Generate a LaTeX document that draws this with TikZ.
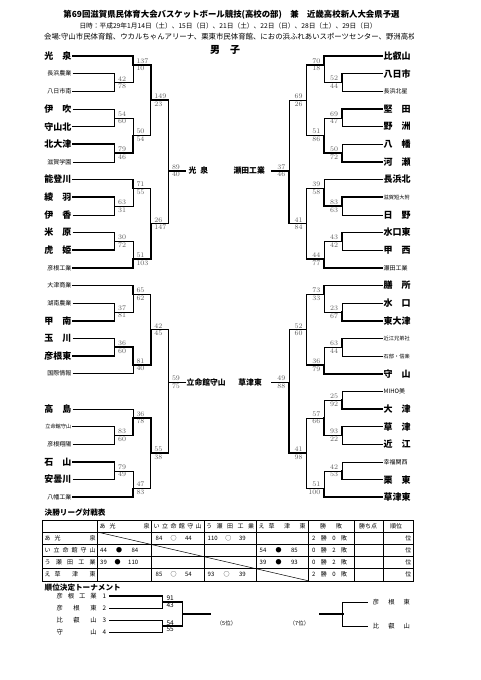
\documentclass[tikz,border=0pt]{standalone}
\usepackage{fontspec}
\newfontfamily\jp{Noto Sans CJK JP}
\definecolor{scoregray}{HTML}{5E5E5E}
\newcommand{\spr}[2]{\makebox[#1][s]{#2}}

\begin{document}
\begin{tikzpicture}[x=1pt, y=-1pt,
  win/.style={line width=1.6pt, line cap=rect},
  lose/.style={line width=0.55pt},
  tl/.style={anchor=east, inner sep=1pt},
  tr/.style={anchor=west, inner sep=1pt},
  bigname/.style={font=\jp\bfseries\fontsize{9}{9}\selectfont},
  smallname/.style={font=\jp\fontsize{6}{6}\selectfont},
  tinyname/.style={font=\jp\fontsize{5.2}{5.2}\selectfont},
  champ/.style={font=\jp\bfseries\fontsize{7.8}{7.8}\selectfont, inner sep=0pt},
  score/.style={font=\fontsize{7}{7}\selectfont, text=scoregray, inner xsep=3.5pt, inner ysep=1.2pt},
  ls/.style 2 args={label={[score]above right:#1}, label={[score]below right:#2}},
  rs/.style 2 args={label={[score]above left:#1}, label={[score]below left:#2}},
  tabline/.style={line width=0.5pt},
  cell/.style={font=\jp\fontsize{6}{6}\selectfont, inner sep=0pt},
  mini/.style={font=\jp\fontsize{6.3}{6.3}\selectfont, inner sep=1pt},
  mscore/.style={font=\jp\fontsize{6.5}{6.5}\selectfont, inner xsep=4pt, inner ysep=0.6pt},
  ms/.style 2 args={label={[mscore]above right:#1}, label={[mscore]below right:#2}},
  sect/.style={font=\jp\bfseries\fontsize{7.6}{7.6}\selectfont, inner sep=0pt},
]
\fill[white] (0,0) rectangle (481,680);
\useasboundingbox (0,0) rectangle (481,680);

% heading
\node[font=\jp\bfseries\fontsize{8.4}{8.4}\selectfont] (title) at (231.5,15)
  {第69回滋賀県民体育大会バスケットボール競技(高校の部)　兼　近畿高校新人大会県予選};
\node[font=\jp\fontsize{6.7}{6.7}\selectfont] (dates) at (228,26)
  {日時：平成29年1月14日（土）、15日（日）、21日（土）、22日（日）、28日（土）、29日（日）};
\begin{scope}
  \clip (0,0) rectangle (413.5,680);
  \node[font=\jp\fontsize{7.4}{7.4}\selectfont, anchor=west, inner sep=0pt] (venue) at (44,36.5)
    {会場:守山市民体育館、ウカルちゃんアリーナ、栗東市民体育館、におの浜ふれあいスポーツセンター、野洲高校};
\end{scope}
\node[font=\jp\bfseries\fontsize{10}{10}\selectfont] (boys) at (225,50) {男　子};

\begin{scope}[yshift=-38.35pt, y=-17.65pt]
% left teams
\node[tl,bigname]   (L1)  at (72.5,1)  {光　泉};
\node[tl,smallname] (L2)  at (72.5,2)  {長浜農業};
\node[tl,smallname] (L3)  at (72.5,3)  {八日市南};
\node[tl,bigname]   (L4)  at (72.5,4)  {伊　吹};
\node[tl,bigname]   (L5)  at (72.5,5)  {守山北};
\node[tl,bigname]   (L6)  at (72.5,6)  {北大津};
\node[tl,smallname] (L7)  at (72.5,7)  {滋賀学園};
\node[tl,bigname]   (L8)  at (72.5,8)  {能登川};
\node[tl,bigname]   (L9)  at (72.5,9)  {綾　羽};
\node[tl,bigname]   (L10) at (72.5,10) {伊　香};
\node[tl,bigname]   (L11) at (72.5,11) {米　原};
\node[tl,bigname]   (L12) at (72.5,12) {虎　姫};
\node[tl,smallname] (L13) at (72.5,13) {彦根工業};
\node[tl,smallname] (L14) at (72.5,14) {大津商業};
\node[tl,smallname] (L15) at (72.5,15) {湖南農業};
\node[tl,bigname]   (L16) at (72.5,16) {甲　南};
\node[tl,bigname]   (L17) at (72.5,17) {玉　川};
\node[tl,bigname]   (L18) at (72.5,18) {彦根東};
\node[tl,smallname] (L19) at (72.5,19) {国際情報};
\node[tl,bigname]   (L21) at (72.5,21) {高　島};
\node[tl,tinyname]  (L22) at (72.5,22) {立命館守山};
\node[tl,smallname] (L23) at (72.5,23) {彦根翔陽};
\node[tl,bigname]   (L24) at (72.5,24) {石　山};
\node[tl,bigname]   (L25) at (72.5,25) {安曇川};
\node[tl,smallname] (L26) at (72.5,26) {八幡工業};

% right teams
\node[tr,bigname]   (R1)  at (382.5,1)  {比叡山};
\node[tr,bigname]   (R2)  at (382.5,2)  {八日市};
\node[tr,smallname] (R3)  at (382.5,3)  {長浜北星};
\node[tr,bigname]   (R4)  at (382.5,4)  {堅　田};
\node[tr,bigname]   (R5)  at (382.5,5)  {野　洲};
\node[tr,bigname]   (R6)  at (382.5,6)  {八　幡};
\node[tr,bigname]   (R7)  at (382.5,7)  {河　瀬};
\node[tr,bigname]   (R8)  at (382.5,8)  {長浜北};
\node[tr,tinyname]  (R9)  at (382.5,9)  {滋賀短大附};
\node[tr,bigname]   (R10) at (382.5,10) {日　野};
\node[tr,bigname]   (R11) at (382.5,11) {水口東};
\node[tr,bigname]   (R12) at (382.5,12) {甲　西};
\node[tr,smallname] (R13) at (382.5,13) {瀬田工業};
\node[tr,bigname]   (R14) at (382.5,14) {膳　所};
\node[tr,bigname]   (R15) at (382.5,15) {水　口};
\node[tr,bigname]   (R16) at (382.5,16) {東大津};
\node[tr,tinyname]  (R17) at (382.5,17) {近江兄弟社};
\node[tr,tinyname]  (R18) at (382.5,18) {石部・信楽};
\node[tr,bigname]   (R19) at (382.5,19) {守　山};
\node[tr,smallname] (R20) at (382.5,20) {MIHO美};
\node[tr,bigname]   (R21) at (382.5,21) {大　津};
\node[tr,bigname]   (R22) at (382.5,22) {草　津};
\node[tr,bigname]   (R23) at (382.5,23) {近　江};
\node[tr,smallname] (R24) at (382.5,24) {幸福関西};
\node[tr,bigname]   (R25) at (382.5,25) {栗　東};
\node[tr,bigname]   (R26) at (382.5,26) {草津東};

% left block, upper
\coordinate[ls={42}{78}]  (a1)  at (114.5,2.5);
\coordinate[ls={137}{10}] (a2)  at (132.8,1.5);
\coordinate[ls={54}{60}]  (a3)  at (114.5,4.5);
\coordinate[ls={79}{46}]  (a4)  at (114.5,6.5);
\coordinate[ls={50}{54}]  (a5)  at (132.8,5.5);
\coordinate[ls={149}{23}] (a6)  at (150.7,3.5);
\coordinate[ls={63}{31}]  (a7)  at (114.5,9.5);
\coordinate[ls={71}{55}]  (a8)  at (132.8,8.5);
\coordinate[ls={30}{72}]  (a9)  at (114.5,11.5);
\coordinate[ls={51}{103}] (a10) at (132.8,12.5);
\coordinate[ls={26}{147}] (a11) at (150.7,10.5);
\coordinate[ls={89}{40}]  (a12) at (168.3,7.5);
\coordinate (a0) at (185,7.5);
\draw[lose] (L2.east) -| (a1);  \draw[win]  (L3.east) -| (a1);
\draw[win]  (L1.east) -| (a2);  \draw[lose] (a1) -| (a2);
\draw[lose] (L4.east) -| (a3);  \draw[win]  (L5.east) -| (a3);
\draw[win]  (L6.east) -| (a4);  \draw[lose] (L7.east) -| (a4);
\draw[lose] (a3) -| (a5);       \draw[win]  (a4) -| (a5);
\draw[win]  (a2) -| (a6);       \draw[lose] (a5) -| (a6);
\draw[win]  (L9.east) -| (a7);  \draw[lose] (L10.east) -| (a7);
\draw[win]  (L8.east) -| (a8);  \draw[lose] (a7) -| (a8);
\draw[lose] (L11.east) -| (a9); \draw[win]  (L12.east) -| (a9);
\draw[lose] (a9) -| (a10);      \draw[win]  (L13.east) -| (a10);
\draw[lose] (a8) -| (a11);      \draw[win]  (a10) -| (a11);
\draw[win]  (a6) -| (a12);      \draw[lose] (a11) -| (a12);
\draw[win]  (a12) -- (a0);
\node[champ, anchor=west] (w1) at (188.5,7.5) {光\hspace{4pt}泉};

% left block, lower
\coordinate[ls={37}{81}]  (b1)  at (114.5,15.5);
\coordinate[ls={65}{62}]  (b2)  at (132.8,14.5);
\coordinate[ls={36}{60}]  (b3)  at (114.5,17.5);
\coordinate[ls={81}{40}]  (b4)  at (132.8,18.5);
\coordinate[ls={42}{45}]  (b5)  at (150.7,16.5);
\coordinate[ls={83}{60}]  (b6)  at (114.5,22.5);
\coordinate[ls={36}{78}]  (b7)  at (132.8,21.5);
\coordinate[ls={79}{49}]  (b8)  at (114.5,24.5);
\coordinate[ls={47}{83}]  (b9)  at (132.8,25.5);
\coordinate[ls={55}{38}]  (b10) at (150.7,23.5);
\coordinate[ls={59}{75}]  (b11) at (168.3,19.5);
\coordinate (b0) at (185,19.5);
\draw[lose] (L15.east) -| (b1); \draw[win]  (L16.east) -| (b1);
\draw[win]  (L14.east) -| (b2); \draw[lose] (b1) -| (b2);
\draw[lose] (L17.east) -| (b3); \draw[win]  (L18.east) -| (b3);
\draw[win]  (b3) -| (b4);       \draw[lose] (L19.east) -| (b4);
\draw[lose] (b2) -| (b5);       \draw[win]  (b4) -| (b5);
\draw[win]  (L22.east) -| (b6); \draw[lose] (L23.east) -| (b6);
\draw[lose] (L21.east) -| (b7); \draw[win]  (b6) -| (b7);
\draw[win]  (L24.east) -| (b8); \draw[lose] (L25.east) -| (b8);
\draw[lose] (b8) -| (b9);       \draw[win]  (L26.east) -| (b9);
\draw[win]  (b7) -| (b10);      \draw[lose] (b9) -| (b10);
\draw[lose] (b5) -| (b11);      \draw[win]  (b10) -| (b11);
\draw[win]  (b11) -- (b0);
\node[champ, anchor=west] (w3) at (186.5,19.5) {立命館守山};

% right block, upper
\coordinate[rs={52}{44}]  (c1)  at (341.8,2.5);
\coordinate[rs={70}{18}]  (c2)  at (324,1.5);
\coordinate[rs={69}{47}]  (c3)  at (341.8,4.5);
\coordinate[rs={50}{72}]  (c4)  at (341.8,6.5);
\coordinate[rs={51}{86}]  (c5)  at (324,5.5);
\coordinate[rs={69}{26}]  (c6)  at (306.3,3.5);
\coordinate[rs={83}{63}]  (c7)  at (341.8,9.5);
\coordinate[rs={39}{58}]  (c8)  at (324,8.5);
\coordinate[rs={43}{42}]  (c9)  at (341.8,11.5);
\coordinate[rs={44}{77}]  (c10) at (324,12.5);
\coordinate[rs={41}{84}]  (c11) at (306.3,10.5);
\coordinate[rs={37}{46}]  (c12) at (289,7.5);
\coordinate (c0) at (271.7,7.5);
\draw[win]  (R2.west) -| (c1);  \draw[lose] (R3.west) -| (c1);
\draw[win]  (R1.west) -| (c2);  \draw[lose] (c1) -| (c2);
\draw[win]  (R4.west) -| (c3);  \draw[lose] (R5.west) -| (c3);
\draw[lose] (R6.west) -| (c4);  \draw[win]  (R7.west) -| (c4);
\draw[lose] (c3) -| (c5);       \draw[win]  (c4) -| (c5);
\draw[win]  (c2) -| (c6);       \draw[lose] (c5) -| (c6);
\draw[win]  (R9.west) -| (c7);  \draw[lose] (R10.west) -| (c7);
\draw[lose] (R8.west) -| (c8);  \draw[win]  (c7) -| (c8);
\draw[win]  (R11.west) -| (c9); \draw[lose] (R12.west) -| (c9);
\draw[lose] (c9) -| (c10);      \draw[win]  (R13.west) -| (c10);
\draw[lose] (c8) -| (c11);      \draw[win]  (c10) -| (c11);
\draw[lose] (c6) -| (c12);      \draw[win]  (c11) -| (c12);
\draw[win]  (c12) -- (c0);
\node[champ, anchor=east] (w2) at (265,7.5) {瀬田工業};

% right block, lower
\coordinate[rs={23}{67}]  (d1)  at (341.8,15.5);
\coordinate[rs={73}{33}]  (d2)  at (324,14.5);
\coordinate[rs={63}{44}]  (d3)  at (341.8,17.5);
\coordinate[rs={36}{79}]  (d4)  at (324,18.5);
\coordinate[rs={52}{60}]  (d5)  at (306.3,16.5);
\coordinate[rs={25}{92}]  (d6)  at (341.8,20.5);
\coordinate[rs={93}{22}]  (d7)  at (341.8,22.5);
\coordinate[rs={57}{66}]  (d8)  at (324,21.5);
\coordinate[rs={42}{53}]  (d9)  at (341.8,24.5);
\coordinate[rs={51}{100}] (d10) at (324,25.5);
\coordinate[rs={41}{98}]  (d11) at (306.3,23.5);
\coordinate[rs={49}{88}]  (d12) at (289,19.5);
\coordinate (d0) at (271.7,19.5);
\draw[lose] (R15.west) -| (d1); \draw[win]  (R16.west) -| (d1);
\draw[win]  (R14.west) -| (d2); \draw[lose] (d1) -| (d2);
\draw[win]  (R17.west) -| (d3); \draw[lose] (R18.west) -| (d3);
\draw[lose] (d3) -| (d4);       \draw[win]  (R19.west) -| (d4);
\draw[lose] (d2) -| (d5);       \draw[win]  (d4) -| (d5);
\draw[lose] (R20.west) -| (d6); \draw[win]  (R21.west) -| (d6);
\draw[win]  (R22.west) -| (d7); \draw[lose] (R23.west) -| (d7);
\draw[lose] (d6) -| (d8);       \draw[win]  (d7) -| (d8);
\draw[lose] (R24.west) -| (d9); \draw[win]  (R25.west) -| (d9);
\draw[lose] (d9) -| (d10);      \draw[win]  (R26.west) -| (d10);
\draw[lose] (d8) -| (d11);      \draw[win]  (d10) -| (d11);
\draw[lose] (d5) -| (d12);      \draw[win]  (d11) -| (d12);
\draw[win]  (d12) -- (d0);
\node[champ, anchor=east] (w4) at (262,19.5) {草津東};
\end{scope}

% final league table
\node[sect, anchor=west] (lgtitle) at (44.5,512.5) {決勝リーグ対戦表};
\draw[tabline] (42.7,520.7) rectangle (413.3,580.8);
\foreach \x in {97.3,151.7,204,256.7,308.3,354,383.3}
  \draw[tabline] (\x,520.7) -- (\x,580.8);
\foreach \y in {532,544.2,556.4,568.6}
  \draw[tabline] (42.7,\y) -- (413.3,\y);
\draw[tabline] (97.3,532) -- (308.3,580.8);

\node[cell, anchor=west] (hA) at (99.5,526.35) {\spr{50pt}{あ\hspace{4pt}光\hfill 泉}};
\node[cell, anchor=west] (hI) at (153.5,526.35) {\spr{48pt}{い\hfill 立\hfill 命\hfill 館\hfill 守\hfill 山}};
\node[cell, anchor=west] (hU) at (206,526.35) {\spr{48pt}{う\hfill 瀬\hfill 田\hfill 工\hfill 業}};
\node[cell, anchor=west] (hE) at (258.5,526.35) {\spr{47pt}{え\hspace{4pt}草\hfill 津\hfill 東}};
\node[cell] (hWL) at (331,526.35) {\spr{22pt}{勝\hfill 敗}};
\node[cell] (hPt) at (368,526.35) {勝ち点};
\node[cell] (hRk) at (396,526.35) {順位};

\node[cell, anchor=west] (kA) at (44.5,538.1) {\spr{51pt}{あ\hspace{4pt}光\hfill 泉}};
\node[cell, anchor=west] (kI) at (44.5,550.3) {\spr{51pt}{い\hfill 立\hfill 命\hfill 館\hfill 守\hfill 山}};
\node[cell, anchor=west] (kU) at (44.5,562.5) {\spr{51pt}{う\hfill 瀬\hfill 田\hfill 工\hfill 業}};
\node[cell, anchor=west] (kE) at (44.5,574.7) {\spr{51pt}{え\hspace{4pt}草\hfill 津\hfill 東}};

\node[cell, anchor=west] (kA2) at (155.5,538.1) {\spr{36pt}{84\hfill ○\hfill 44}};
\node[cell, anchor=west] (kA3) at (207.5,538.1) {\spr{38pt}{110\hfill ○\hfill 39}};
\node[cell, anchor=west] (kA5) at (312,538.1) {\spr{35pt}{2\hfill 勝\hfill 0\hfill 敗}};
\node[cell, anchor=east] (kA7) at (411.5,538.1) {位};
\node[cell, anchor=west] (kI1) at (100,550.3) {\spr{38pt}{44\hfill ●\hfill 84}};
\node[cell, anchor=west] (kI4) at (259.5,550.3) {\spr{38pt}{54\hfill ●\hfill 85}};
\node[cell, anchor=west] (kI5) at (312,550.3) {\spr{35pt}{0\hfill 勝\hfill 2\hfill 敗}};
\node[cell, anchor=east] (kI7) at (411.5,550.3) {位};
\node[cell, anchor=west] (kU1) at (100,562.5) {\spr{38pt}{39\hfill ●\hfill 110}};
\node[cell, anchor=west] (kU4) at (259.5,562.5) {\spr{38pt}{39\hfill ●\hfill 93}};
\node[cell, anchor=west] (kU5) at (312,562.5) {\spr{35pt}{0\hfill 勝\hfill 2\hfill 敗}};
\node[cell, anchor=east] (kU7) at (411.5,562.5) {位};
\node[cell, anchor=west] (kE2) at (155.5,574.7) {\spr{36pt}{85\hfill ○\hfill 54}};
\node[cell, anchor=west] (kE3) at (207.5,574.7) {\spr{38pt}{93\hfill ○\hfill 39}};
\node[cell, anchor=west] (kE5) at (312,574.7) {\spr{35pt}{2\hfill 勝\hfill 0\hfill 敗}};
\node[cell, anchor=east] (kE7) at (411.5,574.7) {位};

% placing tournament
\node[sect, anchor=west] (rktitle) at (44.5,587.5) {順位決定トーナメント};
\node[mini, anchor=east, inner xsep=3pt] (p1) at (109.3,595.7) {\spr{40pt}{彦\hfill 根\hfill 工\hfill 業}\hspace{6pt}1};
\node[mini, anchor=east, inner xsep=3pt] (p2) at (109.3,607.9) {\spr{40pt}{彦\hfill 根\hfill 東}\hspace{6pt}2};
\node[mini, anchor=east, inner xsep=3pt] (p3) at (109.3,620.1) {\spr{40pt}{比\hfill 叡\hfill 山}\hspace{6pt}3};
\node[mini, anchor=east, inner xsep=3pt] (p4) at (109.3,632.3) {\spr{40pt}{守\hfill 山}\hspace{6pt}4};
\coordinate[ms={91}{43}] (e1) at (162.3,601.8);
\coordinate[ms={54}{55}] (e2) at (162.3,626.2);
\coordinate (e3) at (182.3,614);
\coordinate (e0) at (210,614);
\draw[win]  (p1.east) -| (e1); \draw[lose] (p2.east) -| (e1);
\draw[lose] (p3.east) -| (e2); \draw[win]  (p4.east) -| (e2);
\draw[win]  (e1) -| (e3);      \draw[win]  (e2) -| (e3);
\draw[win]  (e3) -- (e0);
\node[cell, font=\jp\fontsize{5.5}{5.5}\selectfont] (o5) at (226.5,623.3) {（5位）};
\node[cell, font=\jp\fontsize{5.5}{5.5}\selectfont] (o7) at (299.5,623.3) {（7位）};

\coordinate (f0) at (319.3,614);
\coordinate (f1) at (342.7,614);
\node[mini, anchor=west, inner xsep=5pt] (q1) at (367.7,601.8) {\spr{37pt}{彦\hfill 根\hfill 東}};
\node[mini, anchor=west, inner xsep=5pt] (q2) at (367.7,626.2) {\spr{37pt}{比\hfill 叡\hfill 山}};
\draw[lose] (q1.west) -| (f1); \draw[lose] (q2.west) -| (f1);
\draw[win]  (f1) -- (f0);
\end{tikzpicture}
\end{document}
